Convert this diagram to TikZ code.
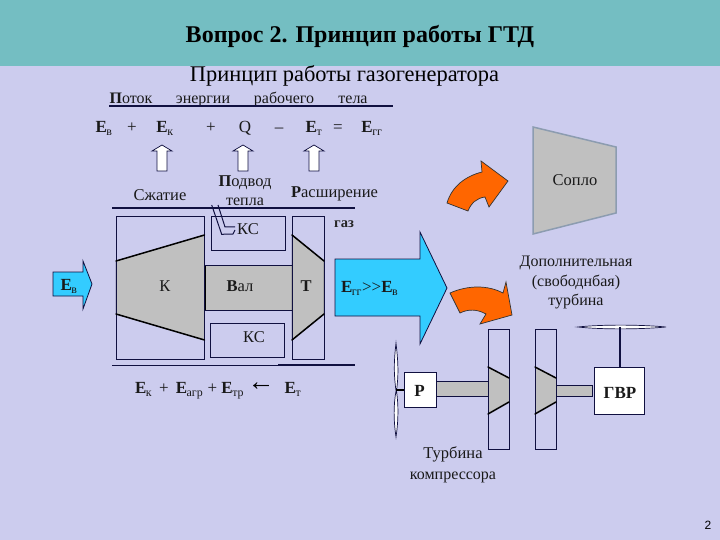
\documentclass[tikz,border=0pt]{standalone}
\usepackage{fontspec}
\setmainfont{Liberation Serif}
\newfontfamily\pagefont{Liberation Sans}
\definecolor{bgc}{HTML}{CCCCEE}
\definecolor{headc}{HTML}{74BEC2}
\definecolor{grayc}{HTML}{C0C0C0}
\definecolor{navyc}{HTML}{101040}
\definecolor{bluec}{HTML}{33CCFF}
\definecolor{orangec}{HTML}{FF6600}
\definecolor{nozc}{HTML}{8C9CB0}
\newcommand{\Es}[1]{\textbf{E}\textsubscript{\kern-0.5pt#1}}
\tikzset{
  x=1pt,y=-1pt,
  boxs/.style={draw=navyc,line width=0.9pt},
  grayshape/.style={fill=grayc},
  blade/.style={draw=black,line width=1.5pt,line cap=round},
  heavy/.style={draw=navyc,line width=1.5pt},
  bluearrow/.style={fill=bluec,draw=navyc,line width=0.8pt,line join=miter},
  orangearrow/.style={fill=orangec,draw=black!80,line width=0.7pt},
  whitearrow/.style={fill=white,draw=navyc,line width=0.7pt},
  whitebox/.style={fill=white,draw=navyc,line width=0.8pt},
  txt/.style={inner sep=0pt,outer sep=0pt,anchor=base,font=\fontsize{16.5}{18}\selectfont,text=black!90},
  eqn/.style={inner sep=0pt,outer sep=0pt,anchor=base,font=\fontsize{17}{19}\selectfont,text=black!90},
  smalltxt/.style={inner sep=0pt,outer sep=0pt,anchor=base,font=\fontsize{16}{18}\selectfont,text=black!90},
}
\begin{document}
\begin{tikzpicture}
\useasboundingbox (0,0) rectangle (720,540);
\fill[bgc] (0,0) rectangle (720,540);
\fill[headc] (0,0) rectangle (720,66);
\node[inner sep=0pt,anchor=base,font=\fontsize{24}{26}\selectfont\bfseries] (title) at (360,43) {Вопрос 2. Принцип работы ГТД};
\node[inner sep=0pt,anchor=base,font=\fontsize{22.4}{24}\selectfont] (subtitle) at (344.5,82) {Принцип работы газогенератора};
% energy flow header
\node[smalltxt] (w1) at (131,104) {\textbf{П}оток};
\node[smalltxt] (w2) at (203,104) {энергии};
\node[smalltxt] (w3) at (284,104) {рабочего};
\node[smalltxt] (w4) at (353,104) {тела};
\draw[heavy] (109,106) -- (393,106);
% equation
\node[eqn] (e1) at (104,133) {\Es{в}};
\node[eqn] at (132,133) {+};
\node[eqn] (e2) at (165,133) {\Es{к}};
\node[eqn] at (211,133) {+};
\node[eqn] (q) at (245,133) {Q};
\node[eqn] at (279,133) {--};
\node[eqn] (e3) at (314,133) {\Es{т}};
\node[eqn] at (338,133) {=};
\node[eqn] (e4) at (372,133) {\Es{гг}};
% white up arrows
\foreach \c in {162,243,314}{
  \filldraw[whitearrow] (\c,145) -- (\c+10,151) -- (\c+5,151) -- (\c+5,171) -- (\c-5,171) -- (\c-5,151) -- (\c-10,151) -- cycle;
}
\node[txt] (sz) at (160,200.5) {Сжатие};
\node[txt] (pod) at (245,186.5) {\textbf{П}одвод};
\node[smalltxt] (pod2) at (245,206) {тепла};
\node[txt] (ras) at (334.5,197.5) {\textbf{Р}асширение};
\draw[heavy] (112,208) -- (355,208);
\node[inner sep=0pt,anchor=base,font=\fontsize{14.5}{16}\selectfont\bfseries,text=black!85] (gaz) at (344,228) {газ};
% gas generator
\filldraw[grayshape] (116,261) -- (204.5,235) -- (204.5,340) -- (116,314) -- cycle;
\filldraw[grayshape] (205,265) rectangle (292,310);
\filldraw[grayshape] (292,235) -- (324,261) -- (324,314) -- (292,340) -- cycle;
\draw[boxs] (116,216) rectangle (204.5,359);
\draw[boxs] (211,216) rectangle (285,250);
\draw[boxs] (292,216) rectangle (324.5,359);
\draw[boxs] (210,323) rectangle (284,357);
\draw[boxs] (205,265) -- (292,265) (205,310) -- (292,310);
\draw[blade] (116,261) -- (204.5,235) (116,314) -- (204.5,340);
\draw[blade] (292,235) -- (324,261) (324,314) -- (292,340);
% fuel pipe
\draw[draw=navyc,line width=1pt] (211.7,205) -- (221.7,234.3) -- (233,234) -- (235,230);
\draw[draw=navyc,line width=1pt] (218,205) -- (225,227) -- (235,227);
\node[txt] (ks1) at (248,234.5) {КС};
\node[txt] (ks2) at (254,342) {КС};
\node[txt] (k) at (165,291) {К};
\node[txt] (val) at (240,291) {\textbf{В}ал};
\node[txt] (t) at (306,291) {\textbf{Т}};
\draw[draw=navyc,line width=0.9pt] (112,365) -- (278,365);
\draw[heavy] (278,365) -- (355,365);
% blue arrows
\filldraw[bluearrow] (53,272) -- (83,272) -- (83,261) -- (92,284) -- (83,309) -- (83,296) -- (53,296) -- cycle;
\node[eqn] (ev) at (69,290.5) {\Es{в}};
\filldraw[bluearrow] (335,259) -- (420,259) -- (420,232) -- (447,288) -- (420,344) -- (420,316) -- (335,316) -- cycle;
\node[eqn,anchor=base west] (egg) at (341,292.5) {\Es{гг}>{}>\Es{в}};
% bottom formula
\node[eqn,anchor=base west] (form) at (135,393.5) {\Es{к} \,+\, \Es{агр} + \Es{тр}};
\node[inner sep=0pt,font=\fontsize{27}{29}\selectfont] (larr) at (261,387) {←};
\node[eqn] (et) at (293,393.5) {\Es{т}};
% orange arrows
\filldraw[orangearrow] (447,203) .. controls (452,186) and (466,176) .. (482,172) -- (481,161) -- (508,181) -- (489,207) -- (485,197) .. controls (477,198) and (471,203) .. (468,211) -- cycle;
\filldraw[orangearrow] (450,293) .. controls (468,285) and (488,285) .. (503,293) -- (506,282) -- (512,315) -- (480,324) -- (486,314) .. controls (477,309) and (468,309) .. (460,313) -- cycle;
% nozzle
\filldraw[fill=grayc,draw=nozc,line width=1.5pt] (533,127) -- (616,147) -- (616,213) -- (533,234) -- cycle;
\node[txt] (sop) at (575,186) {Сопло};
\node[smalltxt] (dop) at (576,266) {Дополнительная};
\node[smalltxt] (dop2) at (576,286) {(свободнбая)};
\node[smalltxt] (dop3) at (576,305) {турбина};
% free-turbine group
\filldraw[fill=white,draw=navyc,line width=0.7pt] (396,343) .. controls (393.5,365) and (394,375) .. (396,391) .. controls (393.5,405) and (393.5,420) .. (396,437) .. controls (398.5,420) and (398.5,405) .. (396.5,391) .. controls (398.5,375) and (398.5,365) .. (396,343) -- cycle;
\draw[draw=black,line width=1.5pt] (396,390) -- (404,390);
\filldraw[grayshape,draw=navyc,line width=0.8pt] (436,381) rectangle (488,396);
\filldraw[grayshape,draw=navyc,line width=0.8pt] (556,385) rectangle (592.5,396);
\fill[grayc] (488,367) -- (509,378) -- (509,402) -- (488,414) -- cycle;
\fill[grayc] (535,367) -- (556,378) -- (556,402) -- (535,414) -- cycle;
\draw[boxs] (488,329) rectangle (509.5,449);
\draw[boxs] (535,329) rectangle (556,449);
\draw[blade] (488,367) -- (509,378) (488,414) -- (509,402);
\draw[blade] (535,367) -- (556,378) (535,414) -- (556,402);
\node[whitebox,minimum width=32pt,minimum height=35pt,inner sep=0pt] (p) at (420,389.5) {};
\node[inner sep=0pt,anchor=base,font=\fontsize{17}{19}\selectfont\bfseries,text=black!90] at (419.5,396) {Р};
\node[whitebox,minimum width=50pt,minimum height=47pt,inner sep=0pt] (gvr) at (619,390.5) {};
\node[inner sep=0pt,anchor=base,font=\fontsize{17}{19}\selectfont\bfseries,text=black!90] at (620,398) {ГВР};
\filldraw[fill=white,draw=navyc,line width=0.7pt] (578,327) .. controls (600,324.5) and (640,324.5) .. (666,327) .. controls (640,329.5) and (600,329.5) .. (578,327) -- cycle;
\coordinate (rotor) at (620,327);
\draw[draw=navyc,line width=1.5pt] (rotor) -- (gvr.north -| rotor);
\node[txt] (tk) at (453,458) {Турбина};
\node[smalltxt] (tk2) at (453,479) {компрессора};
\node[inner sep=0pt,font=\pagefont\fontsize{12}{14}\selectfont] (pg) at (708,525) {2};
\end{tikzpicture}
\end{document}
